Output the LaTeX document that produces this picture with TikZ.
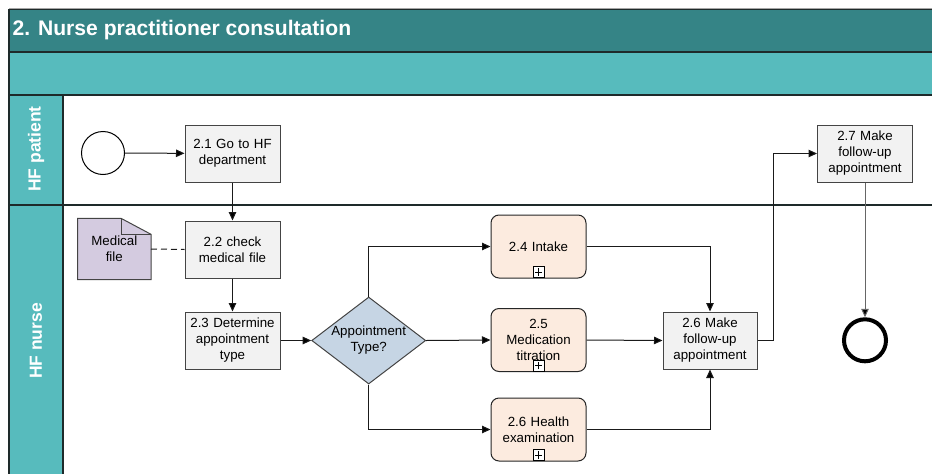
\documentclass[tikz,border=0pt]{standalone}
\usepackage{fontspec}
\setmainfont{Liberation Sans}
\usetikzlibrary{arrows.meta,shapes.geometric,backgrounds}

\definecolor{titleteal}{HTML}{358486}
\definecolor{laneteal}{HTML}{57BBBD}
\definecolor{framedark}{HTML}{1E2A2A}
\definecolor{taskgray}{HTML}{F2F2F2}
\definecolor{subpeach}{HTML}{FCEBDF}
\definecolor{gateblue}{HTML}{C6D5E4}
\definecolor{docpurple}{HTML}{D4CBE0}
\definecolor{edgegray}{HTML}{1A1A1A}
\definecolor{boxline}{HTML}{444444}

\begin{document}
\begin{tikzpicture}[x=1pt,y=-1pt,
  boxfont/.style={font=\fontsize{13.3}{16}\selectfont},
  task/.style={boxfont, draw=boxline, fill=taskgray, line width=1pt,
    minimum width=95pt, minimum height=57pt, text width=92pt,
    align=center, inner sep=0pt},
  subproc/.style={task, fill=subpeach, draw=black!85, rounded corners=8pt,
    minimum height=63pt},
  plusbox/.style={draw=black, fill=white, line width=0.8pt, minimum size=11pt,
    inner sep=0pt,
    path picture={\draw[line width=0.8pt]
      (path picture bounding box.center) ++(-3.6pt,0) -- ++(7.2pt,0)
      (path picture bounding box.center) ++(0,-3.6pt) -- ++(0,7.2pt);}},
  gatebox/.style={shape=diamond, draw=boxline, fill=gateblue, line width=1pt,
    minimum width=114pt, minimum height=87pt, inner sep=0pt},
  gatetext/.style={boxfont, align=center, inner sep=0pt},
  docbox/.style={boxfont, align=center, inner sep=0pt,
    minimum width=73pt, minimum height=61pt},
  lanelabel/.style={font=\fontsize{17.5}{20}\selectfont\bfseries, text=white,
    rotate=90, inner sep=0pt},
  flow/.style={draw=edgegray, line width=1pt,
    -{Triangle[length=8.5pt,width=7.5pt,fill=black]}},
  assoc/.style={draw=edgegray, line width=1pt, dashed,
    dash pattern=on 6pt off 4pt},
  laneline/.style={draw=framedark, line width=1.3pt}
]
\useasboundingbox (0,0) rectangle (932,474);

% ---- pool header bands and lane headers ----
\fill[titleteal] (9,9) rectangle (933,52);
\fill[laneteal] (9,52) rectangle (933,95);
\fill[laneteal] (9,95) rectangle (63,475);
\draw[gray!70, line width=1pt] (9,8) -- (933,8);
\draw[laneline] (9,9.5) -- (933,9.5);
\draw[laneline] (9,52) -- (933,52);
\draw[laneline] (9,95) -- (933,95);
\draw[laneline] (9,205) -- (933,205);
\draw[laneline] (9,9) -- (9,475);
\draw[laneline] (63,95) -- (63,475);

\node[anchor=west, text=white, font=\fontsize{21.1}{24}\selectfont\bfseries,
  inner sep=0pt] (title) at (12.5,30.5) {2. Nurse practitioner consultation};
\node[lanelabel] (lanepatient) at (36,149) {HF patient};
\node[lanelabel] (lanenurse) at (36,341) {HF nurse};

% ---- events ----
\node[circle, draw=black, fill=white, line width=1pt, minimum size=43pt,
  inner sep=0pt] (start) at (103,153) {};
\node[circle, draw=black, fill=white, line width=4pt, minimum size=42pt,
  inner sep=0pt] (finish) at (865,340.3) {};

% ---- tasks ----
\node[task] (t21) at (232.5,153.5) {2.1 Go to HF\\department};
\node[task] (t22) at (232.5,249.5) {2.2 check\\medical file};
\node[task] (t23) at (232.5,340.5) {2.3 Determine\\appointment\\type};
\node[task, minimum width=94pt] (t26m) at (710,340.5) {2.6 Make\\follow-up\\appointment};
\node[task] (t27) at (865,153.5) {2.7 Make\\follow-up\\appointment};

% ---- collapsed sub-processes ----
\node[subproc] (t24) at (538.5,246.5) {2.4 Intake};
\node[subproc] (t25) at (538.5,340) {2.5\\Medication\\titration};
\node[subproc] (t26h) at (538.5,429.5) {2.6 Health\\examination};
\node[plusbox] (p24) at ([yshift=6.5pt]t24.south) {};
\node[plusbox] (p25) at ([yshift=6.5pt]t25.south) {};
\node[plusbox] (p26h) at ([yshift=6.5pt]t26h.south) {};

% ---- gateway ----
\node[gatebox] (gate) at (368.7,340.5) {};
\node[gatetext] (gatelbl) at (gate.center) {Appointment\\Type?};

% ---- data object with folded corner ----
\node[docbox] (doc) at (114.3,249) {Medical\\file};
\begin{scope}[on background layer]
  \filldraw[fill=docpurple, draw=boxline, line width=1pt]
    (doc.north west) -- ([xshift=-30pt]doc.north east)
    -- ([yshift=-16pt]doc.north east) -- (doc.south east)
    -- (doc.south west) -- cycle;
  \draw[boxline, line width=1pt]
    ([xshift=-30pt]doc.north east) |- ([yshift=-16pt]doc.north east);
\end{scope}

% ---- sequence flows ----
\draw[flow] (start) -- (t21);
\draw[flow] (t21) -- (t22);
\draw[flow] (t22) -- (t23);
\draw[flow] (t23) -- (gate.west);
\draw[flow] (gate.north) |- (t24.west);
\draw[flow] (gate.east) -- (t25.west);
\draw[flow] (gate.south) |- (t26h.west);
\draw[flow] (t24.east) -| (t26m.north);
\draw[flow] (t25.east) -- (t26m.west);
\draw[flow] (t26h.east) -| (t26m.south);
\coordinate (bend) at (773.5,340.5);
\draw[flow] (t26m.east) -- (bend) |- (t27.west);
\draw[flow, draw=black!60] (t27.south) -- (finish.north);

% ---- association ----
\draw[assoc] (doc.east) -- (t22.west);
\end{tikzpicture}
\end{document}
